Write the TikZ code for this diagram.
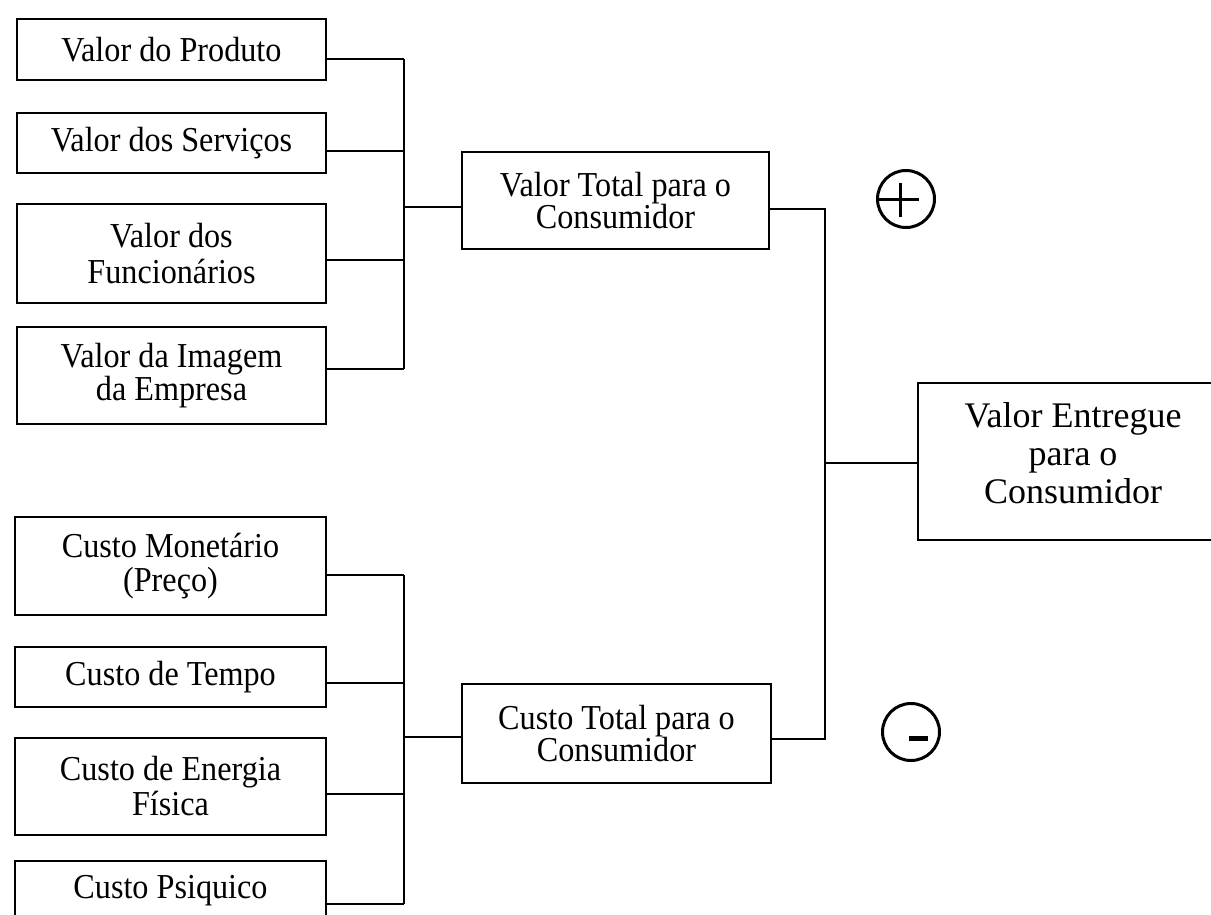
\documentclass[tikz,border=0pt]{standalone}
\usepackage{fontspec}
\setmainfont{Liberation Serif}
\newfontfamily\narrowserif[FakeStretch=0.92]{Liberation Serif}
\begin{document}
\begin{tikzpicture}[x=1pt,y=-1pt,
  box/.style={draw, line width=2.6pt, inner sep=0pt, align=center,
    minimum width=309pt, font=\narrowserif\fontsize{35}{36}\selectfont},
  skip/.style={font=\narrowserif\fontsize{35}{#1}\selectfont},
  bigbox/.style={draw, line width=2.6pt, inner sep=0pt},
  bigtext/.style={inner sep=0pt, align=center, font=\fontsize{36}{38}\selectfont},
  wire/.style={line width=2.4pt},
  sign/.style={draw, circle, line width=3pt, inner sep=0pt, minimum size=57pt}]
\useasboundingbox (0,0) rectangle (1211,914);

% value components
\node[box, minimum height=61pt] (b1) at (171.5,49.5) {Valor do Produto};
\node[box, minimum height=60pt] (b2) at (171.5,143) {Valor dos Serviços};
\node[box, minimum height=99pt, skip=36] (b3) at (171.5,253.5) {Valor dos\\Funcionários};
\node[box, minimum height=97pt, skip=33] (b4) at (171.5,375.5) {Valor da Imagem\\da Empresa};

% cost components
\node[box, minimum width=311pt, minimum height=98pt, skip=34] (c1) at (170.5,566) {Custo Monetário\\(Preço)};
\node[box, minimum width=311pt, minimum height=60pt] (c2) at (170.5,677) {Custo de Tempo};
\node[box, minimum width=311pt, minimum height=97pt, skip=35] (c3) at (170.5,786.5) {Custo de Energia\\Física};
\node[box, minimum width=311pt, minimum height=60pt] (c4) at (170.5,891) {Custo Psiquico};

% totals
\node[box, minimum width=307pt, minimum height=97pt, skip=32] (vt) at (615.5,200.5) {Valor Total para o\\Consumidor};
\node[box, minimum height=99pt, skip=32] (ct) at (616.5,733.5) {Custo Total para o\\Consumidor};

% delivered value
\node[bigbox, minimum width=302pt, minimum height=157pt] (ve) at (1069,461.5) {};
\node[bigtext] (vetext) at ([xshift=4pt,yshift=8pt]ve.center) {Valor Entregue\\para o\\Consumidor};

% signs
\node[sign] (plus) at (906,199) {};
\node[sign] (minus) at (911,732) {};
\draw[line width=3pt] (plus.west) -- ++(43,0);
\draw[line width=3pt] ([xshift=-6pt]plus.center) ++(0,-16) -- ++(0,34);
\draw[line width=5pt] ([xshift=-2pt,yshift=-6pt]minus.center) -- ++(19,0);

% bus positions
\coordinate (vbus) at (404,0);
\coordinate (cbus) at (404,0);
\coordinate (rbus) at (825,0);

% value bus
\coordinate (p1) at ([yshift=-9.5pt]b1.east);
\coordinate (p2) at ([yshift=-8pt]b2.east);
\coordinate (p3) at ([yshift=-6.5pt]b3.east);
\coordinate (p4) at ([yshift=6.5pt]b4.east);
\coordinate (pv) at ([yshift=-6.5pt]vt.west);
\draw[wire] (p1) -- (p1 -| vbus);
\draw[wire] (p2) -- (p2 -| vbus);
\draw[wire] (p3) -- (p3 -| vbus);
\draw[wire] (p4) -- (p4 -| vbus);
\draw[wire] (p1 -| vbus) -- (p4 -| vbus);
\draw[wire] (pv -| vbus) -- (pv);

% cost bus
\coordinate (q1) at ([yshift=-9pt]c1.east);
\coordinate (q2) at ([yshift=-6pt]c2.east);
\coordinate (q3) at ([yshift=-7.5pt]c3.east);
\coordinate (q4) at ([yshift=-13pt]c4.east);
\coordinate (qc) at ([yshift=-3.5pt]ct.west);
\draw[wire] (q1) -- (q1 -| cbus);
\draw[wire] (q2) -- (q2 -| cbus);
\draw[wire] (q3) -- (q3 -| cbus);
\draw[wire] (q4) -- (q4 -| cbus);
\draw[wire] (q1 -| cbus) -- (q4 -| cbus);
\draw[wire] (qc -| cbus) -- (qc);

% totals to delivered value
\coordinate (r1) at ([yshift=-8.5pt]vt.east);
\coordinate (r2) at ([yshift=-5.5pt]ct.east);
\coordinate (re) at ([yshift=-1.5pt]ve.west);
\draw[wire] (r1) -| (r2 -| rbus) -- (r2);
\draw[wire] (re -| rbus) -- (re);
\end{tikzpicture}
\end{document}
